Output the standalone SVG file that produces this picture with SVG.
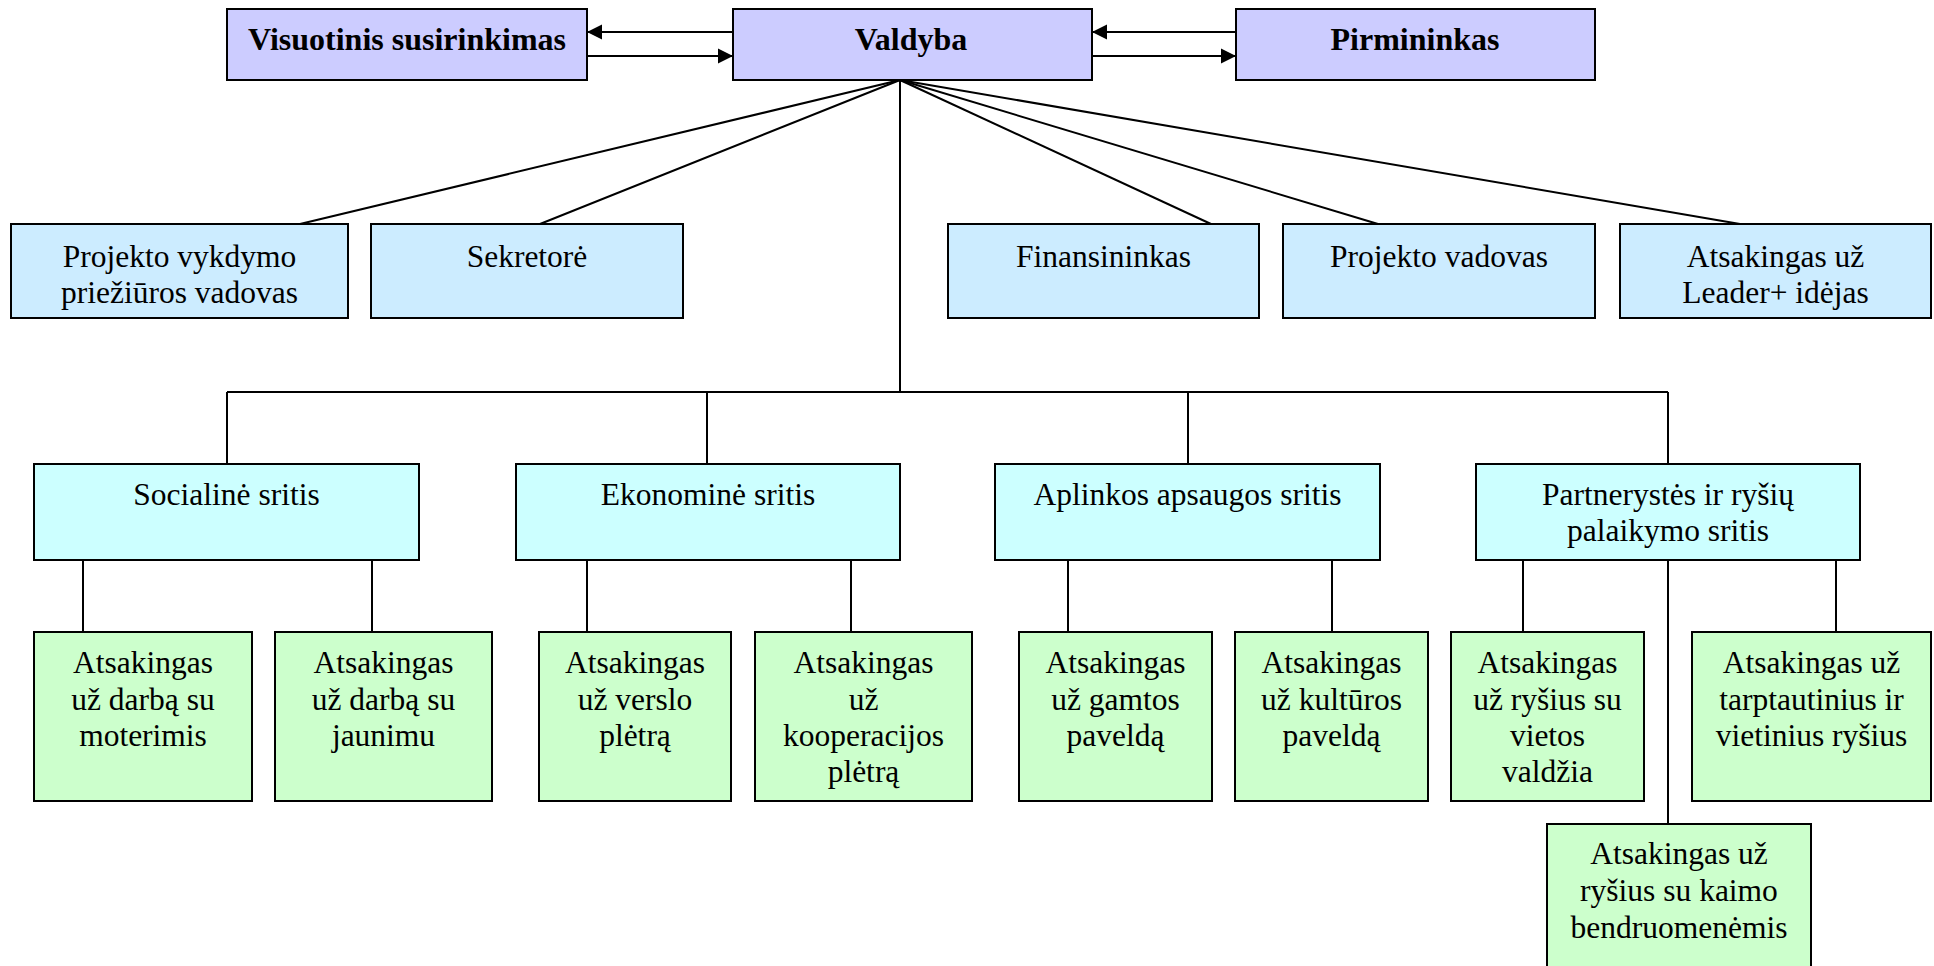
<svg xmlns="http://www.w3.org/2000/svg" width="1934" height="966" viewBox="0 0 1934 966">
<defs>
<marker id="ah" markerUnits="userSpaceOnUse" markerWidth="16" markerHeight="16" viewBox="0 0 16 16" refX="15" refY="8" orient="auto">
<path d="M0,0.5 L15,8 L0,15.5 Z" fill="#000"/>
</marker>
<style>
rect{stroke:#000;stroke-width:2}
.b1{fill:#CCCCFF}
.b2{fill:#CCECFF}
.b3{fill:#CCFFFF}
.b4{fill:#CCFFCC}
text{font-family:"Liberation Serif","Times New Roman",serif;font-size:31.5px;fill:#000;text-anchor:middle}
.bold{font-weight:bold;font-size:32px}
.c line{stroke:#000;stroke-width:2;fill:none}
</style>
</defs>
<rect x="0" y="0" width="1934" height="966" fill="#fff" style="stroke:none"/>
<g class="c" id="connectors">
<line x1="733" y1="32" x2="587" y2="32" marker-end="url(#ah)"/>
<line x1="587" y1="56" x2="733" y2="56" marker-end="url(#ah)"/>
<line x1="1236" y1="32" x2="1092" y2="32" marker-end="url(#ah)"/>
<line x1="1092" y1="56" x2="1236" y2="56" marker-end="url(#ah)"/>
<line x1="900" y1="80" x2="300" y2="224"/>
<line x1="900" y1="80" x2="540" y2="224"/>
<line x1="900" y1="80" x2="1211" y2="224"/>
<line x1="900" y1="80" x2="1378" y2="224"/>
<line x1="900" y1="80" x2="1740" y2="224"/>
<line x1="900" y1="80" x2="900" y2="392"/>
<line x1="227" y1="392" x2="1668" y2="392"/>
<line x1="227" y1="392" x2="227" y2="464"/>
<line x1="707" y1="392" x2="707" y2="464"/>
<line x1="1188" y1="392" x2="1188" y2="464"/>
<line x1="1668" y1="392" x2="1668" y2="464"/>
<line x1="83" y1="560" x2="83" y2="632"/>
<line x1="372" y1="560" x2="372" y2="632"/>
<line x1="587" y1="560" x2="587" y2="632"/>
<line x1="851" y1="560" x2="851" y2="632"/>
<line x1="1068" y1="560" x2="1068" y2="632"/>
<line x1="1332" y1="560" x2="1332" y2="632"/>
<line x1="1523" y1="560" x2="1523" y2="632"/>
<line x1="1668" y1="560" x2="1668" y2="824"/>
<line x1="1836" y1="560" x2="1836" y2="632"/>
</g>
<g id="n-visuotinis"><rect class="b1" x="227" y="9" width="360" height="71"/><text class="bold" x="407" y="50">Visuotinis susirinkimas</text></g>
<g id="n-valdyba"><rect class="b1" x="733" y="9" width="359" height="71"/><text class="bold" x="911" y="50">Valdyba</text></g>
<g id="n-pirmininkas"><rect class="b1" x="1236" y="9" width="359" height="71"/><text class="bold" x="1415" y="50">Pirmininkas</text></g>

<g id="n-priez"><rect class="b2" x="11" y="224" width="337" height="94"/><text x="179.5" y="267">Projekto vykdymo</text><text x="179.5" y="303">priežiūros vadovas</text></g>
<g id="n-sekretore"><rect class="b2" x="371" y="224" width="312" height="94"/><text x="527" y="267">Sekretorė</text></g>
<g id="n-finans"><rect class="b2" x="948" y="224" width="311" height="94"/><text x="1103.5" y="267">Finansininkas</text></g>
<g id="n-vadovas"><rect class="b2" x="1283" y="224" width="312" height="94"/><text x="1439" y="267">Projekto vadovas</text></g>
<g id="n-leader"><rect class="b2" x="1620" y="224" width="311" height="94"/><text x="1775.5" y="267">Atsakingas už</text><text x="1775.5" y="303">Leader+ idėjas</text></g>

<g id="n-social"><rect class="b3" x="34" y="464" width="385" height="96"/><text x="226.5" y="505">Socialinė sritis</text></g>
<g id="n-ekonom"><rect class="b3" x="516" y="464" width="384" height="96"/><text x="708" y="505">Ekonominė sritis</text></g>
<g id="n-aplink"><rect class="b3" x="995" y="464" width="385" height="96"/><text x="1187.5" y="505">Aplinkos apsaugos sritis</text></g>
<g id="n-partner"><rect class="b3" x="1476" y="464" width="384" height="96"/><text x="1668" y="505">Partnerystės ir ryšių</text><text x="1668" y="541">palaikymo sritis</text></g>

<g id="n-moter"><rect class="b4" x="34" y="632" width="218" height="169"/><text x="143" y="673">Atsakingas</text><text x="143" y="709.5">už darbą su</text><text x="143" y="746">moterimis</text></g>
<g id="n-jaun"><rect class="b4" x="275" y="632" width="217" height="169"/><text x="383.5" y="673">Atsakingas</text><text x="383.5" y="709.5">už darbą su</text><text x="383.5" y="746">jaunimu</text></g>
<g id="n-verslo"><rect class="b4" x="539" y="632" width="192" height="169"/><text x="635" y="673">Atsakingas</text><text x="635" y="709.5">už verslo</text><text x="635" y="746">plėtrą</text></g>
<g id="n-koop"><rect class="b4" x="755" y="632" width="217" height="169"/><text x="863.5" y="673">Atsakingas</text><text x="863.5" y="709.5">už</text><text x="863.5" y="746">kooperacijos</text><text x="863.5" y="782">plėtrą</text></g>
<g id="n-gamtos"><rect class="b4" x="1019" y="632" width="193" height="169"/><text x="1115.5" y="673">Atsakingas</text><text x="1115.5" y="709.5">už gamtos</text><text x="1115.5" y="746">paveldą</text></g>
<g id="n-kult"><rect class="b4" x="1235" y="632" width="193" height="169"/><text x="1331.5" y="673">Atsakingas</text><text x="1331.5" y="709.5">už kultūros</text><text x="1331.5" y="746">paveldą</text></g>
<g id="n-vietos"><rect class="b4" x="1451" y="632" width="193" height="169"/><text x="1547.5" y="673">Atsakingas</text><text x="1547.5" y="709.5">už ryšius su</text><text x="1547.5" y="746">vietos</text><text x="1547.5" y="782">valdžia</text></g>
<g id="n-tarpt"><rect class="b4" x="1692" y="632" width="239" height="169"/><text x="1811.5" y="673">Atsakingas už</text><text x="1811.5" y="709.5">tarptautinius ir</text><text x="1811.5" y="746">vietinius ryšius</text></g>
<g id="n-kaimo"><rect class="b4" x="1547" y="824" width="264" height="150"/><text x="1679" y="864">Atsakingas už</text><text x="1679" y="901">ryšius su kaimo</text><text x="1679" y="938">bendruomenėmis</text></g>
</svg>
